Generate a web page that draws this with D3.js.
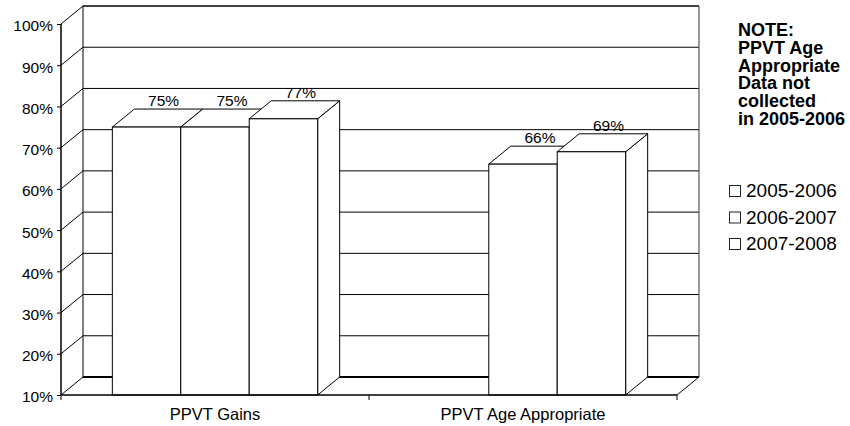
<!DOCTYPE html>
<html>
<head>
<meta charset="utf-8">
<script src="https://cdnjs.cloudflare.com/ajax/libs/d3/7.8.5/d3.min.js"></script>
<style>
  html, body { margin: 0; padding: 0; background: #fff; }
  svg { display: block; font-family: "Liberation Sans", Arial, sans-serif; }
</style>
</head>
<body>
<svg id="chart" width="850" height="426"></svg>
<script>
// Categories, series and values (null = not collected)
const categories = ["PPVT Gains", "PPVT Age Appropriate"];
const seriesNames = ["2005-2006", "2006-2007", "2007-2008"];
const values2005 = [75, null];
const values2006 = [75, 66];
const values2007 = [77, 69];
const yTicks = [10, 20, 30, 40, 50, 60, 70, 80, 90, 100];
const noteLines = ["NOTE:", "PPVT Age", "Appropriate", "Data not", "collected", "in 2005-2006"];

const seriesValues = [values2005, values2006, values2007];

const svg = d3.select("#chart");

// Plot frame (front plane) and 3-D depth offset
const plotLeft = 61, plotRight = 677, plotBottom = 395, plotTop = 24;
const dx = 22, dy = -18;

const y = d3.scaleLinear().domain([10, 100]).range([plotBottom, plotTop]);
const x0 = d3.scaleBand().domain(categories).range([plotLeft, plotRight]);
const x1 = d3.scaleBand().domain(seriesNames).range([0, x0.bandwidth()])
  .paddingInner(0).paddingOuter(0.75);

const g = svg.append("g");
const ink = "#000";

// Back wall gridlines
g.selectAll("line.grid").data(yTicks.slice(1)).join("line")
  .attr("class", "grid")
  .attr("x1", plotLeft + dx).attr("x2", plotRight + dx)
  .attr("y1", d => y(d) + dy).attr("y2", d => y(d) + dy)
  .attr("stroke", ink).attr("stroke-width", d => d === 100 ? 1.5 : 1);

// Side wall diagonals
g.selectAll("line.side").data(yTicks).join("line")
  .attr("class", "side")
  .attr("x1", plotLeft).attr("y1", d => y(d))
  .attr("x2", plotLeft + dx).attr("y2", d => y(d) + dy)
  .attr("stroke", ink).attr("stroke-width", 1);

// Back wall verticals
g.append("line").attr("x1", plotLeft + dx).attr("x2", plotLeft + dx)
  .attr("y1", y(100) + dy).attr("y2", y(10) + dy)
  .attr("stroke", ink).attr("stroke-width", 1);
g.append("line").attr("x1", plotRight + dx).attr("x2", plotRight + dx)
  .attr("y1", y(100) + dy).attr("y2", y(10) + dy)
  .attr("stroke", "#555").attr("stroke-width", 1.2);

// Floor
g.append("line").attr("x1", plotLeft + dx).attr("x2", plotRight + dx)
  .attr("y1", y(10) + dy).attr("y2", y(10) + dy)
  .attr("stroke", ink).attr("stroke-width", 2);
g.append("line").attr("x1", plotRight).attr("y1", y(10))
  .attr("x2", plotRight + dx).attr("y2", y(10) + dy)
  .attr("stroke", ink).attr("stroke-width", 1);

// Bars
const bars = [];
categories.forEach((c, ci) => {
  seriesNames.forEach((s, si) => {
    const v = seriesValues[si][ci];
    if (v !== null) bars.push({ c, s, v });
  });
});

const barG = g.append("g");
bars.forEach(b => {
  const xa = x0(b.c) + x1(b.s);
  const xb = xa + x1.bandwidth();
  const yt = y(b.v), yb = y(10);
  const bg = barG.append("g");
  // right side face
  bg.append("path")
    .attr("d", `M${xb},${yb}L${xb + dx},${yb + dy}L${xb + dx},${yt + dy}L${xb},${yt}Z`)
    .attr("fill", "#fff").attr("stroke", ink).attr("stroke-width", 1);
  // top face
  bg.append("path")
    .attr("d", `M${xa},${yt}L${xa + dx},${yt + dy}L${xb + dx},${yt + dy}L${xb},${yt}Z`)
    .attr("fill", "#fff").attr("stroke", ink).attr("stroke-width", 1);
  // front face
  bg.append("rect")
    .attr("x", xa).attr("y", yt).attr("width", xb - xa).attr("height", yb - yt)
    .attr("fill", "#fff").attr("stroke", ink).attr("stroke-width", 1);
});

// Value labels
barG.selectAll("text.val").data(bars).join("text")
  .attr("class", "val")
  .attr("x", d => x0(d.c) + x1(d.s) + x1.bandwidth() / 2 + 17)
  .attr("y", d => y(d.v) - 21)
  .attr("text-anchor", "middle")
  .attr("font-size", 15.5)
  .attr("fill", ink)
  .text(d => d.v + "%");

// Front floor edge / category axis
g.append("line").attr("x1", plotLeft).attr("x2", plotRight)
  .attr("y1", plotBottom).attr("y2", plotBottom)
  .attr("stroke", ink).attr("stroke-width", 1.5);
const xAxis = d3.axisBottom(x0).tickSize(0).tickPadding(0);
const xg = g.append("g").attr("transform", `translate(0,${plotBottom})`).call(xAxis);
xg.select(".domain").remove();
xg.selectAll("text").attr("font-size", 16.5).attr("fill", ink)
  .attr("dy", null).attr("y", 25)
  .attr("font-family", "Liberation Sans, Arial, sans-serif");
// Category boundary ticks
g.selectAll("line.ctick").data([plotLeft, ...categories.map(c => x0(c) + x0.bandwidth())]).join("line")
  .attr("class", "ctick")
  .attr("x1", d => d).attr("x2", d => d)
  .attr("y1", plotBottom).attr("y2", plotBottom + 5)
  .attr("stroke", ink).attr("stroke-width", 1);

// Value axis
const yAxis = d3.axisLeft(y).tickValues(yTicks).tickSize(4).tickPadding(4)
  .tickFormat(d => d + "%");
const yg = g.append("g").attr("transform", `translate(${plotLeft},0)`).call(yAxis);
yg.select(".domain").attr("d", `M0,${y(100)}V${y(10)}`).attr("stroke", ink).attr("stroke-width", 1.5);
yg.selectAll(".tick line").attr("stroke", ink);
yg.selectAll(".tick text").attr("font-size", 15.5).attr("fill", ink)
  .attr("dy", "0.45em")
  .attr("font-family", "Liberation Sans, Arial, sans-serif");

// Note
svg.append("text")
  .attr("x", 738).attr("y", 36)
  .attr("font-size", 18).attr("font-weight", "bold").attr("fill", ink)
  .selectAll("tspan").data(noteLines).join("tspan")
  .attr("x", 738).attr("dy", (d, i) => i === 0 ? 0 : 17.8)
  .text(d => d);

// Legend
const legend = svg.append("g");
const lg = legend.selectAll("g").data(seriesNames).join("g")
  .attr("transform", (d, i) => `translate(729,${197 + i * 26.5})`);
lg.append("rect").attr("x", 0.5).attr("y", -11.5).attr("width", 11).attr("height", 11)
  .attr("fill", "#fff").attr("stroke", "#222").attr("stroke-width", 1);
lg.append("text").attr("x", 17).attr("y", 0)
  .attr("font-size", 19).attr("fill", ink)
  .text(d => d);
</script>
</body>
</html>
